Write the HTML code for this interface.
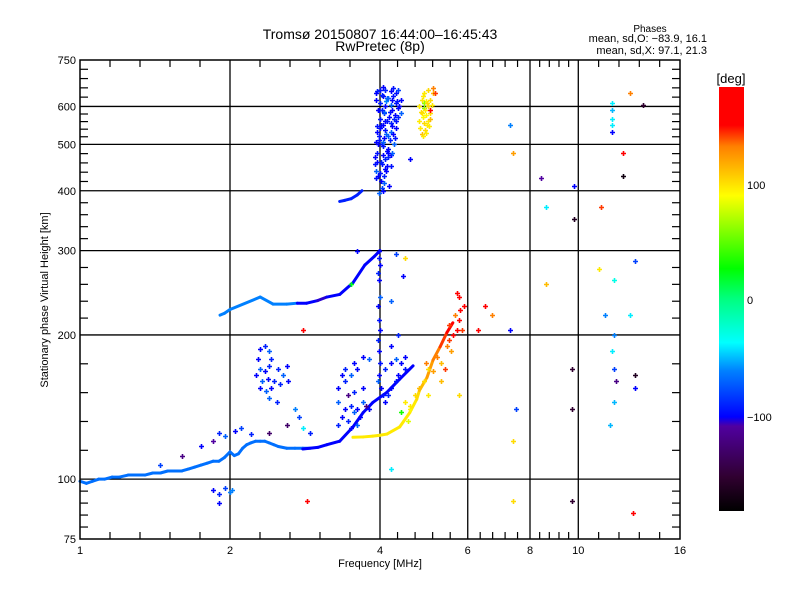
<!DOCTYPE html>
<html><head><meta charset="utf-8"><style>
html,body{margin:0;padding:0;background:#fff;}
svg{display:block;font-family:"Liberation Sans",sans-serif;}
</style></head><body>
<svg id="chart" width="800" height="600" xmlns="http://www.w3.org/2000/svg">
<rect x="0" y="0" width="800" height="600" fill="#fff"/>
<text x="380" y="39" font-size="14" text-anchor="middle">Tromsø 20150807 16:44:00–16:45:43</text>
<text x="380" y="51" font-size="14" text-anchor="middle">RwPretec (8p)</text>
<text x="650" y="32" font-size="10" text-anchor="middle">Phases</text>
<text x="707" y="42" font-size="11" text-anchor="end">mean, sd,O: −83.9, 16.1</text>
<text x="707" y="54" font-size="11" text-anchor="end">mean, sd,X:  97.1, 21.3</text>
<text transform="translate(48,300) rotate(-90)" font-size="11" text-anchor="middle">Stationary phase Virtual Height [km]</text>
<text x="380" y="567" font-size="11" text-anchor="middle">Frequency [MHz]</text>
<defs>
<linearGradient id="cmap" x1="0" y1="1" x2="0" y2="0">
<stop offset="0" stop-color="#000000"/>
<stop offset="0.08" stop-color="#300030"/>
<stop offset="0.2" stop-color="#5000a0"/>
<stop offset="0.222" stop-color="#0000ff"/>
<stop offset="0.33" stop-color="#0080ff"/>
<stop offset="0.397" stop-color="#00ffff"/>
<stop offset="0.5" stop-color="#00ff80"/>
<stop offset="0.572" stop-color="#00ff00"/>
<stop offset="0.744" stop-color="#ffff00"/>
<stop offset="0.86" stop-color="#ff8000"/>
<stop offset="0.91" stop-color="#ff0000"/>
<stop offset="1" stop-color="#ff0000"/>
</linearGradient>
</defs>
<rect x="719" y="87" width="25" height="424" fill="url(#cmap)"/>
<text x="731" y="83" font-size="13" text-anchor="middle">[deg]</text>
<text x="747" y="189" font-size="11">100</text>
<text x="747" y="304" font-size="11">0</text>
<text x="747" y="421" font-size="11">−100</text>
<g id="grid"></g>
<g id="marks"></g>
<g id="axes"></g>
</svg>
<script>
// ---- data ----
const xTicks = [1, 2, 4, 6, 8, 10, 16];
const yTicks = [75, 100, 200, 300, 400, 500, 600, 750];
const t1Freq = [1.0,1.03,1.06,1.09,1.12,1.16,1.2,1.25,1.3,1.35,1.4,1.45,1.5,1.55,1.6,1.65,1.7,1.75,1.8,1.85,1.9,1.95,2.0,2.04,2.08,2.12,2.16,2.2,2.25,2.3,2.35,2.4,2.45,2.5,2.6,2.7,2.8,2.9];
const t1Height = [99,98,99,100,100,101,101,102,102,102,103,103,104,104,104,105,106,107,108,109,109,111,114,112,113,116,118,119,120,120,120,119,118,117,116,116,116,116];
const t1Phase = -65;
const t2Freq = [2.8,3.0,3.13,3.32,3.53,3.7,3.87,4.13,4.38,4.66];
const t2Height = [115.6,116.5,118,120,128.5,137.7,144.6,151.8,161.7,172.4];
const t2Phase = -100;
const t3Freq = [3.53,3.7,3.87,4.0,4.13,4.38,4.59,4.74,4.8,4.97,5.11,5.28,5.45,5.6];
const t3Height = [122.3,122.5,123,123.5,124.2,128.5,137.7,146.9,153.2,163,177.2,188.9,202.4,212];
const t3Phases = [95,95,95,95,95,95,95,95,100,110,120,130,140,150];
const t4Freq = [1.91,1.95,2.0,2.3,2.44,2.6,2.73,2.85,3.0,3.13,3.32,3.53,3.73,3.9,4.0];
const t4Height = [220,222,226,240,232,232,233,233,236,240,243,257,280,292,300];
const t4Phases = [-60,-60,-60,-60,-60,-60,-60,-100,-100,-105,-100,-100,-100,-100,-100];
const t5Freq = [3.32,3.4,3.5,3.6,3.68];
const t5Height = [380,382,385,392,400];
const t5Phase = -90;
const sFreq = [4.0,4.1,4.2,4.3,4.35,4.05,4.15,4.25,4.4,4.0,4.1,4.2,4.3,4.35,3.98,4.08,4.18,4.28,4.4,4.0,4.1,4.2,4.3,4.0,4.1,4.2,4.3,3.98,4.08,4.18,4.28,3.96,4.06,4.16,4.26,3.95,4.05,4.15,3.94,4.04,4.14,3.92,4.0,4.1,3.92,4.02,4.08,4.04,4.05,4.25,3.95,4.12,4.22,4.02,4.22,4.12,3.99,4.2,4.1,
3.93,4.03,4.13,4.23,4.33,3.97,4.07,4.17,4.27,4.37,3.95,4.05,4.15,4.25,4.35,3.93,4.03,4.13,4.23,3.91,4.01,4.11,4.21,3.97,4.07,4.17,3.93,4.03,4.13,3.95,4.05,4.15,3.9,3.98,4.06,
4.9,5.0,5.1,4.85,4.95,5.05,4.8,4.9,5.0,5.08,4.85,4.95,5.05,4.8,4.9,5.0,4.82,4.92,5.02,4.85,4.95,5.1,5.15,5.05,4.9,4.88,4.98,4.87,4.97,4.83,4.93,5.03,4.88,
2.3,2.35,2.4,2.28,2.42,2.3,2.35,2.4,2.26,2.32,2.38,2.45,2.3,2.36,2.42,2.5,2.55,2.6,2.52,2.62,2.4,2.48,
3.35,3.4,3.5,3.6,3.3,3.45,3.55,3.7,3.3,3.4,3.5,3.6,3.7,3.8,3.35,3.45,3.55,3.65,3.75,3.5,3.6,3.4,3.55,3.7,3.8,3.3,
3.98,3.98,4.0,3.96,3.98,4.0,3.97,3.98,4.0,3.96,3.98,4.0,3.99,3.97,4.02,4.05,4.1,4.15,4.2,4.3,4.35,4.1,4.2,4.3,4.4,4.5,4.5,4.35,4.2,4.45,4.2,
5.5,5.6,5.7,5.75,5.8,5.65,5.55,5.45,5.5,5.2,5.3,5.9,5.75,5.85,5.0,5.1,4.95,5.3,5.4,
4.5,4.6,4.7,4.8,4.9,5.0,4.55,4.4,4.6,
1.85,1.9,1.95,2.0,2.02,1.9,1.75,1.85,1.9,1.95,2.05,2.1,2.2,1.6,1.45,2.6,2.7,2.75,2.8,2.9,2.4,
7.3,7.4,8.4,8.6,9.8,9.8,11.7,11.7,11.7,11.7,11.7,12.7,12.3,12.3,13.5,11.1,11.0,13.0,8.6,7.3,6.5,6.7,11.8,11.8,11.7,11.8,11.9,11.8,13.0,13.0,9.7,9.7,7.5,7.4,7.4,9.7,12.9,11.3,12.7,11.6,2.85,2.8,3.5,3.6,4.3,4.5,4.6,4.2,5.7,5.75,6.3];
const sHeight = [650,650,645,640,650,630,625,630,620,610,600,605,610,595,590,580,585,575,580,565,560,555,560,540,535,530,540,520,515,510,515,500,495,490,500,480,475,470,460,455,450,440,435,445,425,420,430,405,660,655,645,615,590,550,545,525,510,475,465,
640,635,625,620,615,590,585,570,565,600,545,550,520,525,570,505,500,485,480,470,460,440,450,430,415,410,620,590,560,530,505,480,455,395,400,
640,650,640,620,615,620,600,595,600,605,580,575,580,560,555,560,540,535,545,525,528,655,640,590,610,630,610,570,550,585,590,565,520,
187,190,185,178,178,170,168,172,165,160,162,160,155,153,155,170,165,172,158,160,148,145,
165,160,165,170,155,150,152,155,145,140,142,140,145,140,135,132,138,135,142,128,130,170,175,180,178,130,
300,290,280,270,260,240,230,215,205,195,185,175,165,160,155,150,145,150,155,160,165,170,175,178,175,170,180,200,190,265,235,
195,200,205,215,225,220,185,190,210,180,175,230,240,205,170,168,175,160,170,
145,140,150,155,160,150,132,138,142,
95,93,96,94,95,89,117,120,125,123,126,128,124,112,107,130,140,135,128,125,125,
550,480,425,370,410,350,610,590,565,550,530,640,480,430,605,370,275,285,255,205,230,220,260,200,185,170,160,145,165,155,170,140,140,120,90,90,85,220,220,130,90,205,255,300,295,290,465,105,245,150,205];
const sPhase = [-95,-90,-100,-95,-80,-100,-70,-95,-100,-90,-100,-70,-95,-100,-100,-90,-95,-100,-70,-95,-100,-90,-95,-100,-95,-70,-100,-95,-100,-90,-95,-100,-95,-100,-70,-95,-100,-90,-100,-95,-100,-70,-95,-100,-95,-100,-90,-80,-100,-95,-90,-60,-100,-95,-100,-70,-95,-100,-90,
-100,-90,-70,-100,-95,-100,-70,-100,-90,-100,-95,-100,-70,-100,-90,-100,-95,-100,-70,-100,-90,-100,-95,-100,-70,-100,-100,-90,-95,-100,-70,-100,-95,-70,-100,
95,100,110,95,90,100,95,60,100,95,95,90,100,95,100,95,95,100,95,110,95,130,140,150,60,95,100,90,95,100,95,110,95,
-100,-90,-70,-100,-90,-70,-100,-90,-100,-70,-100,-90,-100,-70,-100,-90,-70,-100,-90,-100,-70,-90,
-100,-90,-70,-100,-100,-120,-90,-100,-70,-100,-90,-100,-70,-100,-100,-90,-70,-100,-120,-100,-70,-90,-100,-100,-70,-90,
-100,-95,-100,-90,-100,-70,-100,-95,-100,-90,-100,-95,-100,-70,-100,-95,-100,-90,-100,-95,-100,-90,-100,-70,-100,-95,-100,-90,-100,-100,-70,
140,150,160,150,160,130,120,130,140,130,110,160,150,140,100,120,130,110,140,
95,90,100,110,100,95,80,30,95,
-100,-90,-80,-60,-60,-100,-100,-110,-90,-70,-100,-80,-90,-120,-80,-130,-60,-80,-40,-90,-130,
-60,120,-110,-40,-100,-160,-40,-50,-40,-40,-100,130,150,-170,-150,140,95,-80,110,-100,150,130,-30,-60,-40,-80,-120,-50,-160,-100,-150,-150,-80,100,100,-150,150,-60,-40,-50,160,150,20,-100,-80,100,-100,-40,150,100,150];

// ---- scales ----
const X0 = 80, X1 = 680, Y0 = 60, Y1 = 539;
function xs(f){ return X0 + 150*Math.log2(f); }
function ys(h){ return Y1 - 479*Math.log10(h/75); }
const cStops = [[-180,[0,0,0]],[-150,[48,0,48]],[-110,[80,0,160]],[-100,[0,0,255]],[-60,[0,128,255]],[-37,[0,255,255]],[0,[0,255,128]],[26,[0,255,0]],[88,[255,255,0]],[130,[255,128,0]],[148,[255,0,0]],[180,[255,0,0]]];
function col(p){
  for(let i=1;i<cStops.length;i++){
    if(p<=cStops[i][0]){
      const a=cStops[i-1],b=cStops[i],t=(p-a[0])/(b[0]-a[0]);
      const c=a[1].map((v,k)=>Math.round(v+(b[1][k]-v)*t));
      return 'rgb('+c.join(',')+')';
    }
  }
  return 'rgb(255,0,0)';
}
const NS='http://www.w3.org/2000/svg';
function mk(tag,attrs,parent){ const e=document.createElementNS(NS,tag); for(const k in attrs) e.setAttribute(k,attrs[k]); parent.appendChild(e); return e; }
const grid=document.getElementById('grid'), marks=document.getElementById('marks'), axes=document.getElementById('axes');

[2,4,6,8,10].forEach(f=>{
  const l=mk('line',{x1:xs(f),x2:xs(f),y1:Y0,y2:Y1,stroke:'#000','stroke-width':1.3},grid);
  
  
});
[100,200,300,400,500,600].forEach(h=>{
  const l=mk('line',{x1:X0,x2:X1,y1:ys(h),y2:ys(h),stroke:'#000','stroke-width':1.3},grid);
  
  
});

function trace(fr,hs,ph,name){
  for(let i=1;i<fr.length;i++){
    const p = Array.isArray(ph)?ph[i]:ph;
    const s=mk('line',{x1:xs(fr[i-1]),y1:ys(hs[i-1]),x2:xs(fr[i]),y2:ys(hs[i]),stroke:col(p),'stroke-width':3,'stroke-linecap':'round'},marks);
    
    
  }
}
trace(t1Freq,t1Height,t1Phase,'o-trace-low');
trace(t2Freq,t2Height,t2Phase,'o-trace-rise');
trace(t3Freq,t3Height,t3Phases,'x-trace');
trace(t4Freq,t4Height,t4Phases,'f-trace');
trace(t5Freq,t5Height,t5Phase,'oblique-trace');

function plus(f,h,p){
  const x=Math.round(xs(f))+0.5,y=Math.round(ys(h))+0.5;
  const g=mk('path',{d:'M'+(x-2.5)+' '+y+'h5M'+x+' '+(y-2.5)+'v5',stroke:col(p),'stroke-width':1.6},marks);
  
  
}
for(let i=0;i<sFreq.length;i++) plus(sFreq[i],sHeight[i],sPhase[i]);

const fr=mk('rect',{x:X0,y:Y0,width:X1-X0,height:Y1-Y0,fill:'none',stroke:'#000','stroke-width':1.5},axes);



for(let i=0;i<xTicks.length-1;i++){
  const a=xs(xTicks[i]),b=xs(xTicks[i+1]);
  for(let k=1;k<5;k++){
    const x=a+(b-a)*k/5;
    const t1=mk('line',{x1:x,x2:x,y1:Y0,y2:Y0+7,stroke:'#000','stroke-width':1.2},axes);
    
    
    const t2=mk('line',{x1:x,x2:x,y1:Y1,y2:Y1-7,stroke:'#000','stroke-width':1.2},axes);
    
    
  }
}
for(let i=0;i<yTicks.length-1;i++){
  const a=ys(yTicks[i]),b=ys(yTicks[i+1]);
  for(let k=1;k<5;k++){
    const y=a+(b-a)*k/5;
    const t1=mk('line',{x1:X0,x2:X0+8,y1:y,y2:y,stroke:'#000','stroke-width':1.2},axes);
    
    
    const t2=mk('line',{x1:X1,x2:X1-8,y1:y,y2:y,stroke:'#000','stroke-width':1.2},axes);
    
    
  }
}
xTicks.forEach(f=>{
  const t=mk('text',{x:xs(f),y:554,'font-size':11,'text-anchor':'middle'},axes);
  t.textContent=String(f);
  
  
});
yTicks.forEach(h=>{
  const t=mk('text',{x:76,y:ys(h)+4,'font-size':11,'text-anchor':'end'},axes);
  t.textContent=String(h);
  
  
});
</script>
</body></html>
